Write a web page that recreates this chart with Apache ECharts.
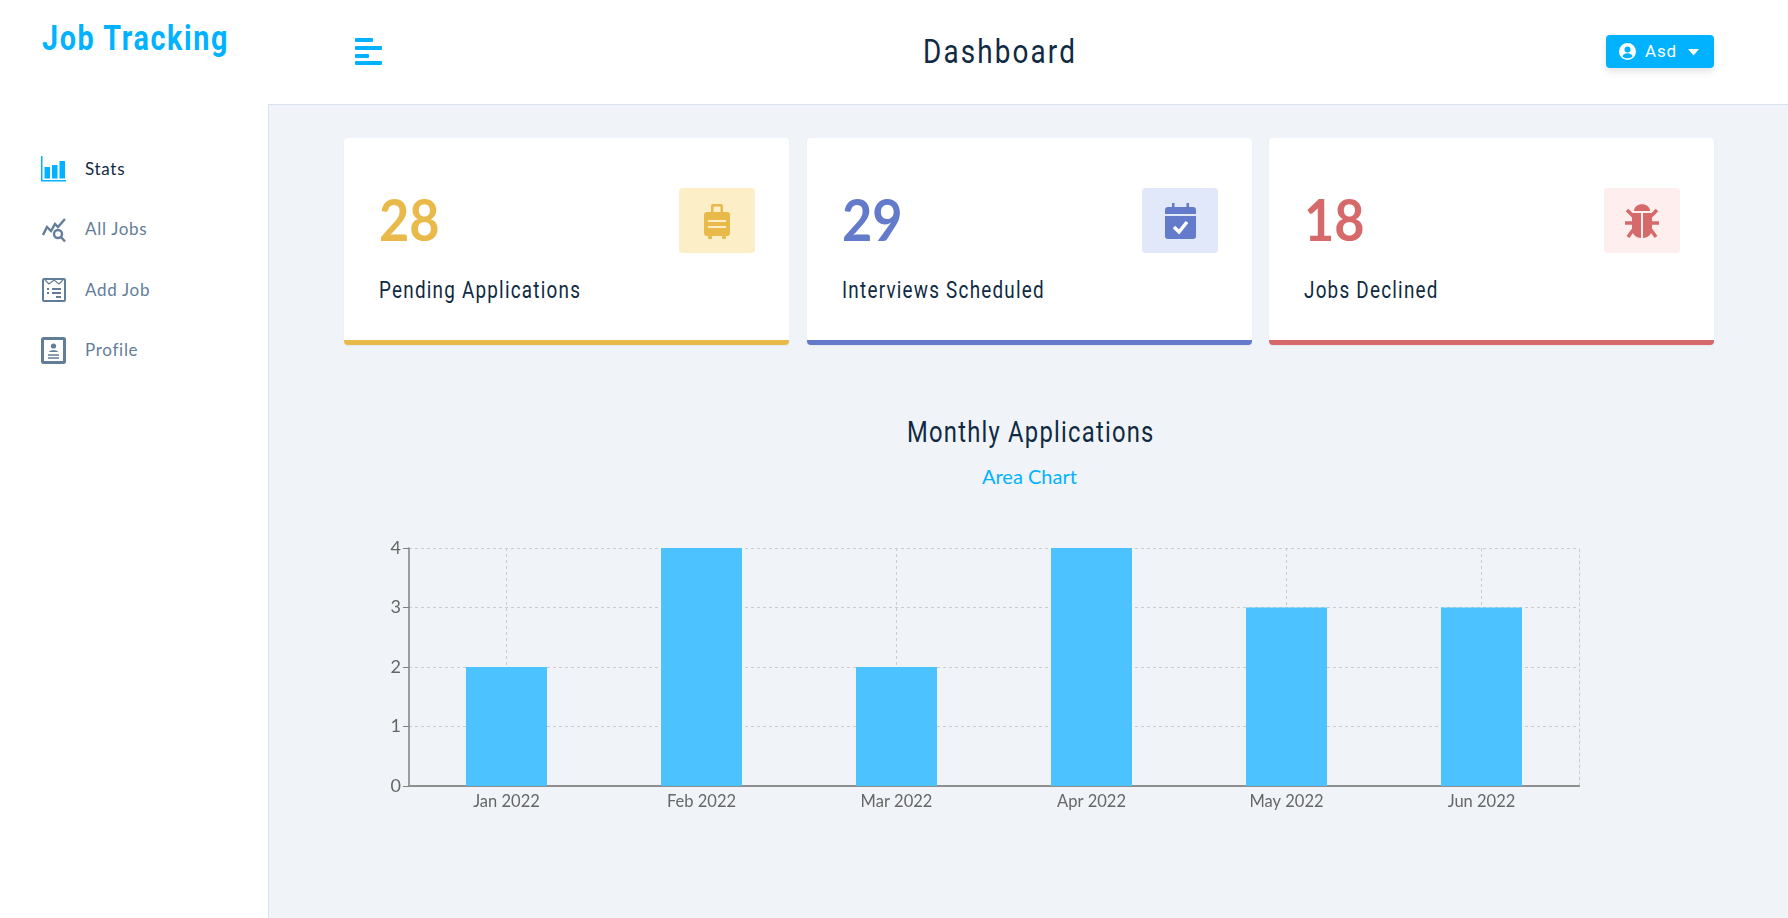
<!DOCTYPE html>
<html>

<head>
  <meta charset="UTF-8">
  <title>Job Tracking</title>
  <script src="https://cdn.jsdelivr.net/npm/echarts@6/dist/echarts.min.js"></script>
  <style>
    html, body { margin: 0; padding: 0; width: 1788px; height: 918px; overflow: hidden; background: #fff; }
    body { position: relative; font-family: Lato, sans-serif; color: #102a43; }
    .abs { position: absolute; white-space: nowrap; }
    /* Roboto squeezed horizontally, no condensed face is installed */
    .cond { font-family: Roboto, sans-serif; transform: scaleX(.82); transform-origin: left center; }
    #main { position: absolute; left: 268px; top: 104px; right: 0; bottom: 0; background: #f0f4f8; border-left: 1px solid #d9e2ec; border-top: 1px solid #d9e2ec; box-sizing: border-box; }
    .card { position: absolute; top: 138px; height: 207px; background: #fff; border-radius: 4px; border-bottom: 5px solid; box-sizing: border-box; box-shadow: 0 1px 2px rgba(0,0,0,.05); }
    .badge { position: absolute; top: 50px; width: 76px; height: 65px; border-radius: 4px; display: flex; align-items: center; justify-content: center; }
    .count { position: absolute; left: 35px; top: 41px; font-size: 58px; font-weight: 700; line-height: 80px; transform: scaleX(.9); transform-origin: left center; }
    .label { position: absolute; left: 35px; top: 137px; font-size: 23px; line-height: 32px; letter-spacing: 1.5px; }
    .nav { position: absolute; left: 85px; font-size: 17px; line-height: 24px; letter-spacing: .7px; color: #627d98; }
    #chart { position: absolute; left: 344px; top: 500px; width: 1370px; height: 340px; }
  </style>
</head>

<body>
  <div id="main"></div>

  <div class="abs cond" style="left:42px;top:17px;font-size:35px;line-height:44px;font-weight:700;color:#00b2ff;letter-spacing:2px">Job Tracking</div>

  <svg class="abs" style="left:355px;top:38px" width="28" height="28" fill="#00b2ff">
    <rect x="0" y="0" width="18" height="4" rx="1" />
    <rect x="0" y="8" width="27" height="4" rx="1" />
    <rect x="0" y="16" width="14" height="4" rx="1" />
    <rect x="0" y="23" width="27" height="4" rx="1" />
  </svg>

  <div class="abs cond" style="left:923px;top:29px;font-size:34px;line-height:44px;letter-spacing:2.600px">Dashboard</div>

  <div class="abs" style="left:1606px;top:35px;width:108px;height:33px;background:#00b2ff;border-radius:4px;box-shadow:0 4px 6px rgba(0,0,0,.1);color:#fff">
    <svg class="abs" style="left:13px;top:8px" width="17" height="17" viewBox="0 0 17 17">
      <circle cx="8.500" cy="8.500" r="8.500" fill="#fff" />
      <circle cx="8.500" cy="6.600" r="3" fill="#00b2ff" />
      <path d="M3.400 13.200c1-2.200 2.800-3 5.100-3s4.100.8 5.100 3c-1.300 1.300-3.100 2.100-5.100 2.100s-3.800-.8-5.100-2.100z" fill="#00b2ff" />
    </svg>
    <div class="abs" style="left:39px;top:6px;font-size:17px;line-height:21px;letter-spacing:.8px;font-family:Roboto,sans-serif">Asd</div>
    <svg class="abs" style="left:82px;top:14px" width="11" height="7"><path d="M0 0h11l-5.500 6.500z" fill="#fff" /></svg>
  </div>

  <!-- sidebar -->
  <svg class="abs" style="left:41px;top:156px" width="26" height="26" fill="#00b2ff">
    <path d="M0 0h1.500v24H25v1.500H0z" />
    <rect x="3.500" y="11" width="5.500" height="11.500" />
    <rect x="11" y="9" width="5.500" height="13.500" />
    <rect x="18.500" y="5" width="5.500" height="17.500" />
  </svg>
  <div class="nav" style="top:157px;color:#102a43">Stats</div>

  <svg class="abs" style="left:41px;top:217px" width="26" height="26" fill="none" stroke="#627d98" stroke-width="2.400">
    <path d="M2 18l4-8 4 4 4-7 3 3 7-8" />
    <circle cx="17" cy="17" r="4" />
    <path d="M20 20l4 4.500" />
  </svg>
  <div class="nav" style="top:217px">All Jobs</div>

  <svg class="abs" style="left:41px;top:277px" width="26" height="26" fill="none" stroke="#627d98" stroke-width="2">
    <rect x="2" y="2" width="22" height="22" rx="1" />
    <path d="M4 3l4 4 5-4 5 4 4-4" stroke-width="1.200" />
    <path d="M6 12h2M11 12h9M6 16h2M11 16h9M15 20h5" />
  </svg>
  <div class="nav" style="top:278px">Add Job</div>

  <svg class="abs" style="left:41px;top:337px" width="25" height="27">
    <rect x="1.500" y="1.500" width="22" height="24" rx="1" fill="#fff" stroke="#627d98" stroke-width="3" />
    <circle cx="12.500" cy="9" r="2.600" fill="#627d98" />
    <path d="M8 15c0-2.500 9-2.500 9 0z" fill="#627d98" />
    <path d="M7 18h11M7 21h11" stroke="#627d98" stroke-width="1.500" />
  </svg>
  <div class="nav" style="top:338px">Profile</div>

  <!-- cards -->
  <div class="card" style="left:344px;width:445px;border-color:#e9b949">
    <div class="count" id="count0" style="color:#e9b949"></div>
    <div class="label cond">Pending Applications</div>
    <div class="badge" style="left:335px;background:#fcefc7">
      <svg width="26" height="36" fill="#e9b949">
        <path d="M7 9V3a2 2 0 0 1 2-2h8a2 2 0 0 1 2 2v6h-2.500V3.500h-7V9z" />
        <path d="M3 9h20a3 3 0 0 1 3 3v18a3 3 0 0 1-3 3H3a3 3 0 0 1-3-3V12a3 3 0 0 1 3-3zM4 17v2h18v-2zM4 23v2h18v-2z" fill-rule="evenodd" />
        <rect x="4" y="33" width="4" height="3" rx="1" />
        <rect x="18" y="33" width="4" height="3" rx="1" />
      </svg>
    </div>
  </div>

  <div class="card" style="left:807px;width:445px;border-color:#647acb">
    <div class="count" id="count1" style="color:#647acb"></div>
    <div class="label cond">Interviews Scheduled</div>
    <div class="badge" style="left:335px;background:#e0e8f9">
      <svg width="31" height="36" fill="#647acb">
        <path d="M7 0h2.500v4h12V0H24v4h4a3 3 0 0 1 3 3v4H0V7a3 3 0 0 1 3-3h4z" />
        <path d="M0 13h31v20a3 3 0 0 1-3 3H3a3 3 0 0 1-3-3z" />
        <path d="M9 24l5 5 8-10" fill="none" stroke="#fff" stroke-width="3.500" />
      </svg>
    </div>
  </div>

  <div class="card" style="left:1269px;width:445px;border-color:#d66a6a">
    <div class="count" id="count2" style="color:#d66a6a"></div>
    <div class="label cond">Jobs Declined</div>
    <div class="badge" style="left:335px;background:#ffeeee">
      <svg width="36" height="36" fill="#d66a6a" stroke="#d66a6a">
        <path d="M10 8c0-9 16-9 16 0z" stroke="none" />
        <path d="M8 10h9v25c-5 0-9-4-9-9zM19 10h9v16c0 5-4 9-9 9z" stroke="none" />
        <path d="M9 13L3 7M27 13l6-6M8 20H1M28 20h7M9 27l-5 7M27 27l5 7" stroke-width="3.500" fill="none" />
      </svg>
    </div>
  </div>

  <div class="abs cond" style="left:907px;top:414px;font-size:29px;line-height:36px;letter-spacing:1.500px">Monthly Applications</div>
  <div class="abs" style="left:982px;top:463px;font-size:20px;line-height:26px;color:#00b2ff">Area Chart</div>

  <div id="chart"></div>

  <script>
    const months = ['Jan 2022', 'Feb 2022', 'Mar 2022', 'Apr 2022', 'May 2022', 'Jun 2022'];
    const applications = [2, 4, 2, 4, 3, 3];
    const statCounts = [28, 29, 18];

    statCounts.forEach((n, i) => {
      document.getElementById('count' + i).textContent = n;
    });

    const gridLine = { color: '#ccc', width: 1, type: [3, 3] };

    const chart = echarts.init(document.getElementById('chart'));
    chart.setOption({
      animation: false,
      backgroundColor: 'transparent',
      textStyle: { fontFamily: 'Lato' },
      grid: { left: 65, top: 48, width: 1170, height: 238, containLabel: false },
      xAxis: {
        type: 'category',
        data: months,
        axisLine: { lineStyle: { color: '#8f8f8f', width: 2 } },
        axisTick: { alignWithLabel: true, length: 6, lineStyle: { color: '#8f8f8f' } },
        axisLabel: { color: '#666', fontSize: 16.5, margin: 7, interval: 0 },
        splitLine: { show: true, alignWithLabel: true, lineStyle: gridLine }
      },
      yAxis: [
        {
          type: 'value', min: 0, max: 4, interval: 1,
          axisLine: { show: true, lineStyle: { color: '#808080', width: 1.5 } },
          axisTick: { show: true, length: 6, lineStyle: { color: '#808080' } },
          axisLabel: { color: '#666', fontSize: 18, margin: 8 },
          splitLine: { show: true, lineStyle: gridLine }
        },
        {
          // dashed right edge of the grid
          type: 'value', min: 0, max: 4, interval: 1, position: 'right',
          axisLine: { show: true, lineStyle: gridLine },
          axisTick: { show: false },
          axisLabel: { show: false },
          splitLine: { show: false }
        }
      ],
      series: [{
        name: 'Applications',
        type: 'bar',
        barWidth: 81,
        data: applications,
        itemStyle: { color: '#4cc3ff' }
      }]
    });
  </script>
</body>

</html>
